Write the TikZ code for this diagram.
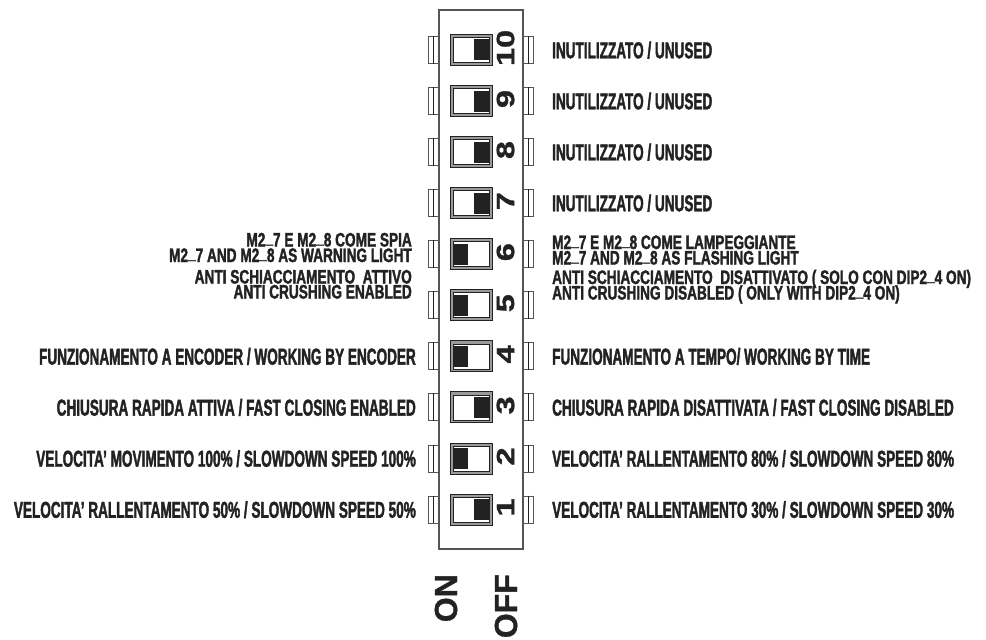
\documentclass[tikz,border=0pt]{standalone}
\usepackage{fontspec}
\newfontfamily\lblfont[FakeStretch=0.59,FakeBold=1.6]{Liberation Sans}
\newfontfamily\twofont[FakeStretch=0.70,FakeBold=1.6]{Liberation Sans}
\newfontfamily\numfont[FakeStretch=1.3,FakeBold=1.2]{Liberation Sans}
\newfontfamily\onofffont[FakeBold=1]{Liberation Sans}
\newcommand\us{\raisebox{0.17em}{\_}}
\definecolor{ink}{HTML}{222222}
\definecolor{edge}{HTML}{555555}
\definecolor{band}{HTML}{9A9A9A}
\tikzset{
  lbl/.style={font=\lblfont\bfseries\fontsize{23}{23}\selectfont, text=ink, inner sep=0},
  lbltwo/.style={font=\twofont\bfseries\fontsize{19.5}{19.5}\selectfont, text=ink, inner sep=0},
  onR/.style={anchor=base west},
  onL/.style={anchor=base east},
  body/.style={draw=edge, line width=1.4pt, fill=white, inner sep=0, minimum width=84pt, minimum height=539pt},
  tab/.style={draw=edge, line width=0.8pt, fill=white, inner sep=0, minimum width=10pt, minimum height=27pt},
  swframe/.style={draw=ink, line width=0.8pt, fill=band, inner sep=0, minimum width=42pt, minimum height=31pt},
  swinner/.style={draw=ink, line width=0.6pt, fill=white, inner sep=0, minimum width=36pt, minimum height=25pt},
  slider/.style={fill=ink, inner sep=0, minimum width=15pt, minimum height=21pt},
  numlbl/.style={font=\numfont\bfseries\fontsize{25}{25}\selectfont, text=ink, inner sep=0, rotate=90},
  onoff/.style={font=\onofffont\bfseries\fontsize{32}{32}\selectfont, text=ink, inner sep=0, rotate=90, anchor=east}
}
\begin{document}
\begin{tikzpicture}[x=1pt,y=-1pt]
\useasboundingbox (0,0) rectangle (986,640);
% tabs (behind body)
\foreach \i in {1,...,10}{
  \pgfmathsetmacro\c{509.5-(\i-1)*51.06}
  \node[tab] (lt\i) at (433,\c) {};
  \draw[ink, line width=0.7pt] (lt\i.north) -- (lt\i.south);
  \node[tab] (rt\i) at (528,\c) {};
  \draw[ink, line width=0.7pt] (rt\i.north) -- (rt\i.south);
}
\node[body] (body) at (481,279.5) {};
% switches: number/state (1 = slider on the ON side, left)
\foreach \i/\s in {1/0,2/1,3/0,4/1,5/1,6/1,7/0,8/0,9/0,10/0}{
  \pgfmathsetmacro\c{509.5-(\i-1)*51.06}
  \node[swframe] (sw\i) at (471,\c) {};
  \node[swinner] (si\i) at (471,\c) {};
  \ifnum\s=1
    \node[slider] (sl\i) at (460.5,\c) {};
  \else
    \node[slider] (sl\i) at (481.5,\c) {};
  \fi
  \node[numlbl] (n\i) at (505.5,\c-2) {\i};
}
% ON / OFF
\node[onoff] (on) at (446,574) {ON};
\node[onoff] (off) at (506,574) {OFF};
% right labels
\node[lbl,onR] (r10) at (552,58.3) {INUTILIZZATO / UNUSED};
\node[lbl,onR] (r9) at (552,109.3) {INUTILIZZATO / UNUSED};
\node[lbl,onR] (r8) at (552,160.3) {INUTILIZZATO / UNUSED};
\node[lbl,onR] (r7) at (552,211.3) {INUTILIZZATO / UNUSED};
\node[lbltwo,onR] (r6a) at (552,249) {M2\us7 E M2\us8 COME LAMPEGGIANTE};
\node[lbltwo,onR] (r6b) at (552,264.5) {M2\us7 AND M2\us8 AS FLASHING LIGHT};
\node[lbltwo,onR] (r5a) at (552,284) {ANTI SCHIACCIAMENTO\ \ DISATTIVATO ( SOLO CON DIP2\us4 ON)};
\node[lbltwo,onR] (r5b) at (552,299.5) {ANTI CRUSHING DISABLED ( ONLY WITH DIP2\us4 ON)};
\node[lbl,onR] (r4) at (552,364.6) {FUNZIONAMENTO A TEMPO/ WORKING BY TIME};
\node[lbl,onR] (r3) at (552,415.6) {CHIUSURA RAPIDA DISATTIVATA / FAST CLOSING DISABLED};
\node[lbl,onR] (r2) at (552,466.7) {VELOCITA’ RALLENTAMENTO 80\% / SLOWDOWN SPEED 80\%};
\node[lbl,onR] (r1) at (552,517.8) {VELOCITA’ RALLENTAMENTO 30\% / SLOWDOWN SPEED 30\%};
% left labels
\node[lbltwo,onL] (l6a) at (412,246.5) {M2\us7 E M2\us8 COME SPIA};
\node[lbltwo,onL] (l6b) at (412,262) {M2\us7 AND M2\us8 AS WARNING LIGHT};
\node[lbltwo,onL] (l5a) at (412,283.5) {ANTI SCHIACCIAMENTO\ \ ATTIVO};
\node[lbltwo,onL] (l5b) at (412,298.5) {ANTI CRUSHING ENABLED};
\node[lbl,onL] (l4) at (416,364.6) {FUNZIONAMENTO A ENCODER / WORKING BY ENCODER};
\node[lbl,onL] (l3) at (416,415.6) {CHIUSURA RAPIDA ATTIVA / FAST CLOSING ENABLED};
\node[lbl,onL] (l2) at (416,466.7) {VELOCITA’ MOVIMENTO 100\% / SLOWDOWN SPEED 100\%};
\node[lbl,onL] (l1) at (416,517.8) {VELOCITA’ RALLENTAMENTO 50\% / SLOWDOWN SPEED 50\%};
\end{tikzpicture}
\end{document}
